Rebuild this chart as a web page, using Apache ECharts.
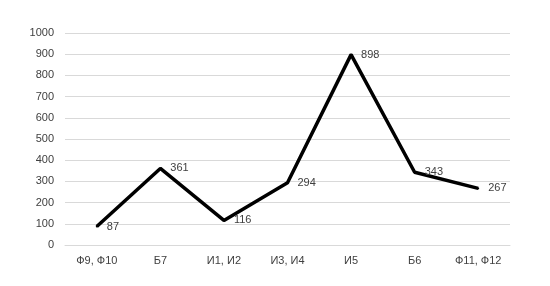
<!DOCTYPE html>
<html><head><meta charset="utf-8">
<script src="https://cdn.jsdelivr.net/npm/echarts@6/dist/echarts.min.js"></script>
<style>html,body{margin:0;padding:0;background:#fff}#c{width:550px;height:286px}</style>
</head><body><div id="c"></div>
<script>
var categories = ["Ф9, Ф10", "Б7", "И1, И2", "И3, И4", "И5", "Б6", "Ф11, Ф12"];
var values = [87, 361, 116, 294, 898, 343, 267];
var yTicks = {min: 0, max: 1000, interval: 100};

var chart = echarts.init(document.getElementById('c'));
chart.setOption({
  animation: false,
  backgroundColor: '#fff',
  grid: {left: 65, right: 40, top: 33, bottom: 41},
  xAxis: {
    type: 'category', data: categories, boundaryGap: true,
    axisLine: {show: true, lineStyle: {color: '#d9d9d9', width: 1}},
    axisTick: {show: false},
    axisLabel: {color: '#404040', fontFamily: 'Liberation Sans', fontSize: 11, margin: 10}
  },
  yAxis: {
    type: 'value', min: yTicks.min, max: yTicks.max, interval: yTicks.interval,
    axisLine: {show: false}, axisTick: {show: false},
    splitLine: {lineStyle: {color: '#d9d9d9', width: 1}},
    axisLabel: {color: '#404040', fontFamily: 'Liberation Sans', fontSize: 11, margin: 11,
      formatter: function (v) { return String(v); }}
  },
  series: [{
    type: 'line', data: values, symbol: 'circle', symbolSize: 2, showSymbol: true,
    itemStyle: {color: '#000'},
    lineStyle: {color: '#000', width: 3.5},
    label: {show: true, position: 'right', distance: 9, color: '#404040',
      fontFamily: 'Liberation Sans', fontSize: 11}
  }]
});
</script></body></html>
